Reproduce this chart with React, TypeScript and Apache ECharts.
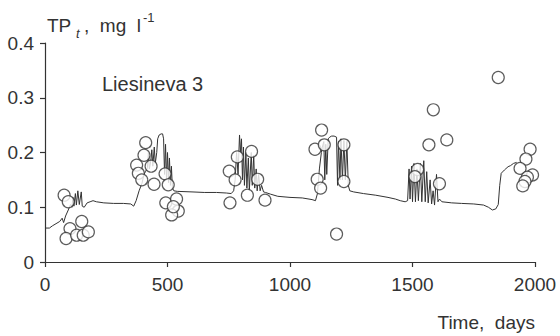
import React, { useEffect, useRef } from "react";
import * as echarts from "echarts";

// Axis ticks
const xTicks = [0, 500, 1000, 1500, 2000];
const yTicks = [0, 0.1, 0.2, 0.3, 0.4];

// Simulated total phosphorus, [day, mg/l]
const simulated: [number, number][] = [
  [0, 0.062], [18, 0.062], [30, 0.066], [45, 0.07], [60, 0.074], [70, 0.08], [76, 0.072],
  [84, 0.084], [95, 0.095], [104, 0.105], [110, 0.1], [114, 0.118], [118, 0.102], [124, 0.125],
  [128, 0.104], [134, 0.13], [140, 0.105], [148, 0.128], [152, 0.102], [160, 0.1], [172, 0.108],
  [184, 0.11], [196, 0.112], [210, 0.11], [240, 0.108], [280, 0.107], [320, 0.107], [350, 0.106],
  [362, 0.102], [372, 0.112], [384, 0.13], [396, 0.144], [404, 0.16],
  [410, 0.165], [418, 0.172], [422, 0.2], [426, 0.17], [432, 0.185], [436, 0.205], [440, 0.175],
  [446, 0.21], [450, 0.18], [456, 0.2], [460, 0.225], [466, 0.232], [474, 0.234], [480, 0.234],
  [484, 0.225], [488, 0.16], [492, 0.215], [496, 0.15], [500, 0.2], [504, 0.145], [508, 0.19],
  [512, 0.14], [516, 0.175], [520, 0.135], [526, 0.13],
  [540, 0.129], [600, 0.128], [650, 0.127], [700, 0.127], [740, 0.126], [760, 0.125],
  [770, 0.13], [776, 0.15], [782, 0.2], [788, 0.16], [794, 0.232], [798, 0.2], [802, 0.225],
  [806, 0.15], [810, 0.21], [814, 0.14], [820, 0.2], [824, 0.135], [830, 0.19], [834, 0.13],
  [842, 0.2], [846, 0.14], [852, 0.195], [856, 0.135], [862, 0.17], [866, 0.13], [872, 0.16],
  [878, 0.13], [884, 0.14], [892, 0.128], [900, 0.127],
  [920, 0.124], [950, 0.12], [1000, 0.118], [1050, 0.117], [1090, 0.114], [1104, 0.112],
  [1112, 0.125], [1120, 0.17], [1128, 0.2],
  [1132, 0.21], [1138, 0.22], [1142, 0.15], [1146, 0.215], [1150, 0.16], [1156, 0.225],
  [1162, 0.228], [1170, 0.23], [1180, 0.23], [1190, 0.228], [1194, 0.14], [1198, 0.22],
  [1204, 0.15], [1208, 0.225], [1214, 0.15], [1220, 0.222], [1226, 0.15], [1232, 0.22],
  [1238, 0.14], [1244, 0.13],
  [1260, 0.128], [1300, 0.125], [1350, 0.122], [1400, 0.118], [1430, 0.115], [1450, 0.112],
  [1470, 0.11], [1480, 0.112],
  [1486, 0.17], [1490, 0.115], [1496, 0.175], [1500, 0.11], [1506, 0.18], [1512, 0.11],
  [1518, 0.17], [1524, 0.112], [1532, 0.18], [1538, 0.11], [1546, 0.185], [1552, 0.11],
  [1558, 0.165], [1564, 0.108], [1572, 0.15], [1578, 0.106], [1584, 0.13], [1590, 0.104],
  [1598, 0.16], [1604, 0.11], [1610, 0.115],
  [1620, 0.11], [1660, 0.108], [1700, 0.107], [1750, 0.106], [1790, 0.104], [1810, 0.1],
  [1826, 0.095], [1840, 0.097], [1850, 0.105], [1856, 0.14], [1862, 0.162], [1875, 0.168],
  [1890, 0.174], [1900, 0.176], [1912, 0.18], [1925, 0.182],
];

// Observed total phosphorus, [day, mg/l]
const observed: [number, number][] = [
  [78, 0.122], [95, 0.11], [102, 0.061], [86, 0.043], [150, 0.074], [129, 0.049], [156, 0.049], [177, 0.055],
  [411, 0.218], [374, 0.177], [404, 0.195], [433, 0.175], [381, 0.162], [395, 0.15], [445, 0.142],
  [490, 0.161], [503, 0.141], [493, 0.108], [537, 0.115], [544, 0.093], [517, 0.086], [524, 0.101],
  [752, 0.166], [776, 0.15], [785, 0.192], [755, 0.108], [843, 0.202], [826, 0.122], [868, 0.151], [898, 0.113],
  [1129, 0.241], [1102, 0.206], [1140, 0.214], [1111, 0.151], [1125, 0.135], [1220, 0.214], [1220, 0.147], [1190, 0.051],
  [1567, 0.214], [1640, 0.223], [1585, 0.278], [1521, 0.169], [1510, 0.156], [1610, 0.143],
  [1850, 0.337], [1980, 0.206], [1963, 0.188], [1939, 0.171], [1990, 0.159], [1969, 0.155], [1959, 0.147], [1950, 0.139],
];

const INK = "#333333";
const FONT = "'Liberation Sans', Arial, Helvetica, sans-serif";

export default function App() {
  const ref = useRef<HTMLDivElement>(null);

  useEffect(() => {
    if (!ref.current) return;
    const chart = echarts.init(ref.current, undefined, { renderer: "svg" });
    const axisCommon = {
      axisLine: { show: true, lineStyle: { color: INK, width: 1.2 } },
      axisTick: { show: true, inside: false, length: 5, lineStyle: { color: INK, width: 1.2 } },
      splitLine: { show: false },
    };
    chart.setOption({
      animation: false,
      backgroundColor: "#ffffff",
      grid: { left: 45, right: 25, top: 43, bottom: 74, containLabel: false },
      xAxis: {
        type: "value",
        min: xTicks[0],
        max: xTicks[xTicks.length - 1],
        interval: 500,
        ...axisCommon,
        axisLabel: {
          color: INK,
          fontSize: 19,
          fontFamily: FONT,
          margin: 13,
          formatter: (v: number) => (xTicks.includes(v) ? String(v) : ""),
        },
      },
      yAxis: {
        type: "value",
        min: yTicks[0],
        max: yTicks[yTicks.length - 1],
        interval: 0.1,
        ...axisCommon,
        axisLabel: {
          color: INK,
          fontSize: 19,
          fontFamily: FONT,
          margin: 11,
          formatter: (v: number) => (v === 0 ? "0" : v.toFixed(1)),
        },
      },
      series: [
        {
          type: "line",
          data: simulated,
          showSymbol: false,
          symbol: "none",
          lineStyle: { color: INK, width: 1 },
          z: 2,
        },
        {
          type: "scatter",
          data: observed,
          symbol: "circle",
          symbolSize: 12,
          itemStyle: { color: "#ffffff", borderColor: INK, borderWidth: 1.2 },
          z: 3,
        },
      ],
      graphic: [
        { type: "text", x: 47, y: 25, style: { text: "TP", fontSize: 19, fontFamily: FONT, fill: INK, verticalAlign: "middle" } },
        { type: "text", x: 76, y: 33, style: { text: "t", fontSize: 13, fontStyle: "italic", fontFamily: FONT, fill: INK, verticalAlign: "middle" } },
        { type: "text", x: 84, y: 25, style: { text: ",  mg  l", fontSize: 19, fontFamily: FONT, fill: INK, verticalAlign: "middle" } },
        { type: "text", x: 143, y: 17, style: { text: "-1", fontSize: 13, fontFamily: FONT, fill: INK, verticalAlign: "middle" } },
        { type: "text", x: 102, y: 84, style: { text: "Liesineva 3", fontSize: 20, fontFamily: FONT, fill: INK, verticalAlign: "middle" } },
        { type: "text", x: 535, y: 322, style: { text: "Time,  days", fontSize: 19, fontFamily: FONT, fill: INK, align: "right", verticalAlign: "middle" } },
      ],
    });
    return () => chart.dispose();
  }, []);

  return (
    <div style={{ position: "fixed", left: 0, top: 0, width: 560, height: 336, background: "#ffffff" }}>
      <div ref={ref} style={{ width: 560, height: 336 }} />
    </div>
  );
}
